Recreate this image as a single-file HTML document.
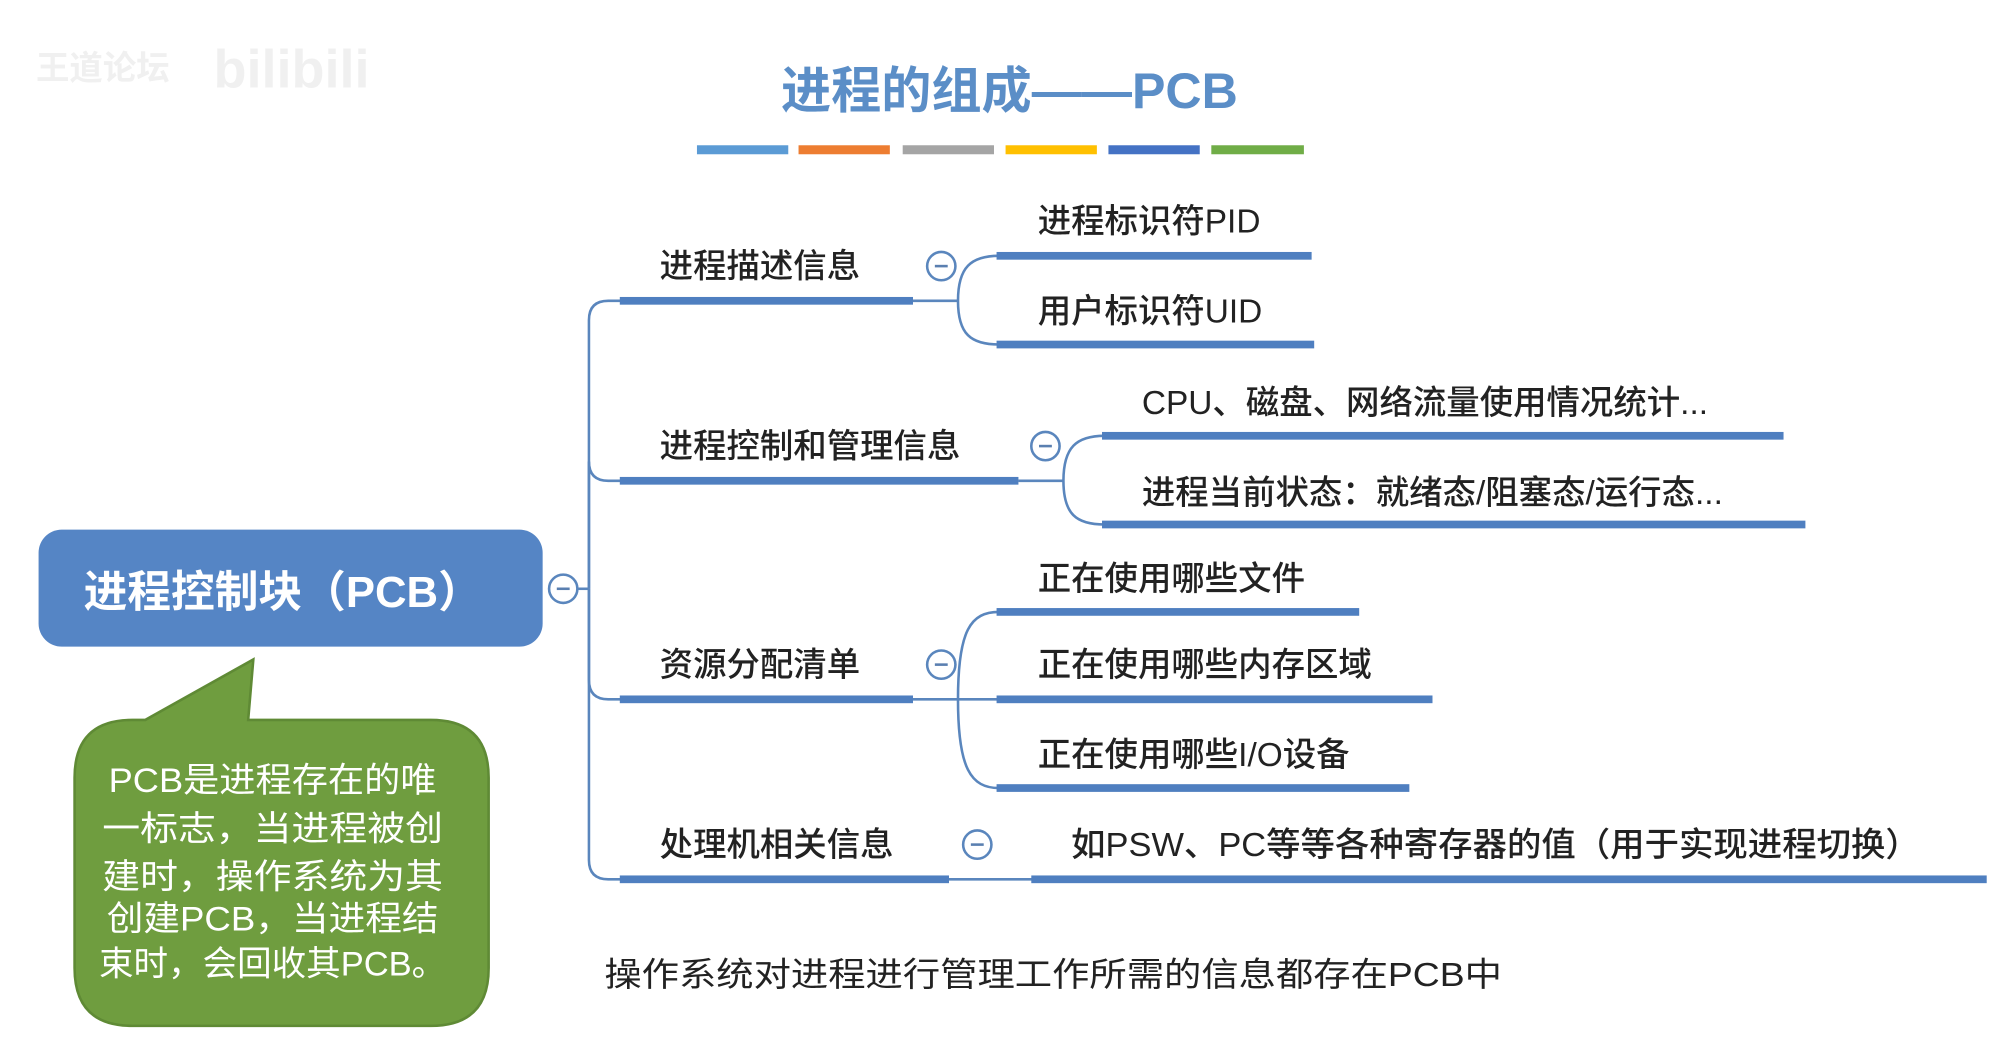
<!DOCTYPE html>
<html><head><meta charset="utf-8"><style>
html,body{margin:0;padding:0;background:#fff;}
svg{display:block}
text{font-family:"Liberation Sans","Noto Sans CJK SC",sans-serif;}
</style></head><body>
<svg width="2006" height="1049" viewBox="0 0 1560 816" preserveAspectRatio="none" xmlns="http://www.w3.org/2000/svg">
<rect width="1560" height="816" fill="#fff"/>
<text x="28" y="62" font-size="26" fill="#f0f0f0" font-weight="bold">王道论坛</text>
<text x="166" y="68" font-size="42" fill="#f0f0f0" font-weight="bold">bilibili</text>
<text x="785" y="84" font-size="39" font-weight="bold" fill="#5b8ec7" text-anchor="middle">进程的组成——PCB</text>
<g>
<rect x="542" y="113" width="71" height="7" fill="#5b9bd5"/>
<rect x="621" y="113" width="71" height="7" fill="#ed7d31"/>
<rect x="702" y="113" width="71" height="7" fill="#a5a5a5"/>
<rect x="782" y="113" width="71" height="7" fill="#ffc000"/>
<rect x="862" y="113" width="71" height="7" fill="#4472c4"/>
<rect x="942" y="113" width="72" height="7" fill="#70ad47"/>
</g>
<g fill="none" stroke="#5a86bd" stroke-width="2">
<path d="M449,458 L458,458"/>
<path d="M458,458 L458,249 Q458,234 473,234 L484,234"/>
<path d="M458,458 L458,359 Q458,374 473,374 L484,374"/>
<path d="M458,458 L458,529 Q458,544 473,544 L484,544"/>
<path d="M458,458 L458,669 Q458,684 473,684 L484,684"/>
<path d="M710,234 L745,234 M745,234 C745,208 755,199 777,199 M745,234 C745,260 755,268 777,268"/>
<path d="M792,374 L827,374 M827,374 C827,348 837,339 859,339 M827,374 C827,400 837,408 859,408"/>
<path d="M710,544 L777,544 M745,544 C745,490 755,476 777,476 M745,544 C745,598 755,613 777,613"/>
<path d="M738,684 L804,684"/>
</g>
<g fill="#4f7fc0">
<rect x="482" y="231" width="228" height="6"/>
<rect x="482" y="371" width="310" height="6"/>
<rect x="482" y="541" width="228" height="6"/>
<rect x="482" y="681" width="256" height="6"/>
<rect x="775" y="196" width="245" height="6"/>
<rect x="775" y="265" width="247" height="6"/>
<rect x="857" y="336" width="530" height="6"/>
<rect x="857" y="405" width="547" height="6"/>
<rect x="775" y="473" width="282" height="6"/>
<rect x="775" y="541" width="339" height="6"/>
<rect x="775" y="610" width="321" height="6"/>
<rect x="802" y="681" width="743" height="6"/>
</g>
<g fill="#fff" stroke="#5a86bd" stroke-width="2">
<circle cx="438" cy="458" r="11"/>
<circle cx="732" cy="207" r="11"/>
<circle cx="813" cy="347" r="11"/>
<circle cx="732" cy="517" r="11"/>
<circle cx="760" cy="657" r="11"/>
</g>
<g stroke="#5a7fb0" stroke-width="2">
<line x1="433" y1="458" x2="443" y2="458"/>
<line x1="727" y1="207" x2="737" y2="207"/>
<line x1="808" y1="347" x2="818" y2="347"/>
<line x1="727" y1="517" x2="737" y2="517"/>
<line x1="755" y1="657" x2="765" y2="657"/>
</g>
<rect x="30" y="412" width="392" height="91" rx="18" fill="#5585c5"/>
<text x="65" y="472" font-size="34" font-weight="bold" fill="#fff">进程控制块（PCB）</text>
<g font-size="26" fill="#222" font-weight="500">
<text x="513" y="216">进程描述信息</text>
<text x="513" y="356">进程控制和管理信息</text>
<text x="513" y="526">资源分配清单</text>
<text x="513" y="666">处理机相关信息</text>
<text x="807" y="181">进程标识符PID</text>
<text x="807" y="251">用户标识符UID</text>
<text x="888" y="322">CPU、磁盘、网络流量使用情况统计...</text>
<text x="888" y="392">进程当前状态：就绪态/阻塞态/运行态...</text>
<text x="807" y="459">正在使用哪些文件</text>
<text x="807" y="526">正在使用哪些内存区域</text>
<text x="807" y="596">正在使用哪些I/O设备</text>
<text x="833" y="666" textLength="660" lengthAdjust="spacingAndGlyphs">如PSW、PC等等各种寄存器的值（用于实现进程切换）</text>
</g>
<text x="470" y="767" font-size="26" fill="#222" textLength="698" lengthAdjust="spacingAndGlyphs">操作系统对进程进行管理工作所需的信息都存在PCB中</text>
<path d="M103,560 Q58,560 58,605 L58,753 Q58,798 103,798 L335,798 Q380,798 380,753 L380,605 Q380,560 335,560 L193,560 L197,513 L113,560 Z" fill="#6f9d3f" stroke="#5f8a35" stroke-width="2"/>
<g font-size="27" fill="#fff" text-anchor="middle">
<text x="212" y="616" textLength="255" lengthAdjust="spacingAndGlyphs">PCB是进程存在的唯</text>
<text x="212" y="654" textLength="265" lengthAdjust="spacingAndGlyphs">一标志，当进程被创</text>
<text x="212" y="691" textLength="265" lengthAdjust="spacingAndGlyphs">建时，操作系统为其</text>
<text x="212" y="724" textLength="258" lengthAdjust="spacingAndGlyphs">创建PCB，当进程结</text>
<text x="212" y="759" textLength="270" lengthAdjust="spacingAndGlyphs">束时，会回收其PCB。</text>
</g>
</svg>
</body></html>
